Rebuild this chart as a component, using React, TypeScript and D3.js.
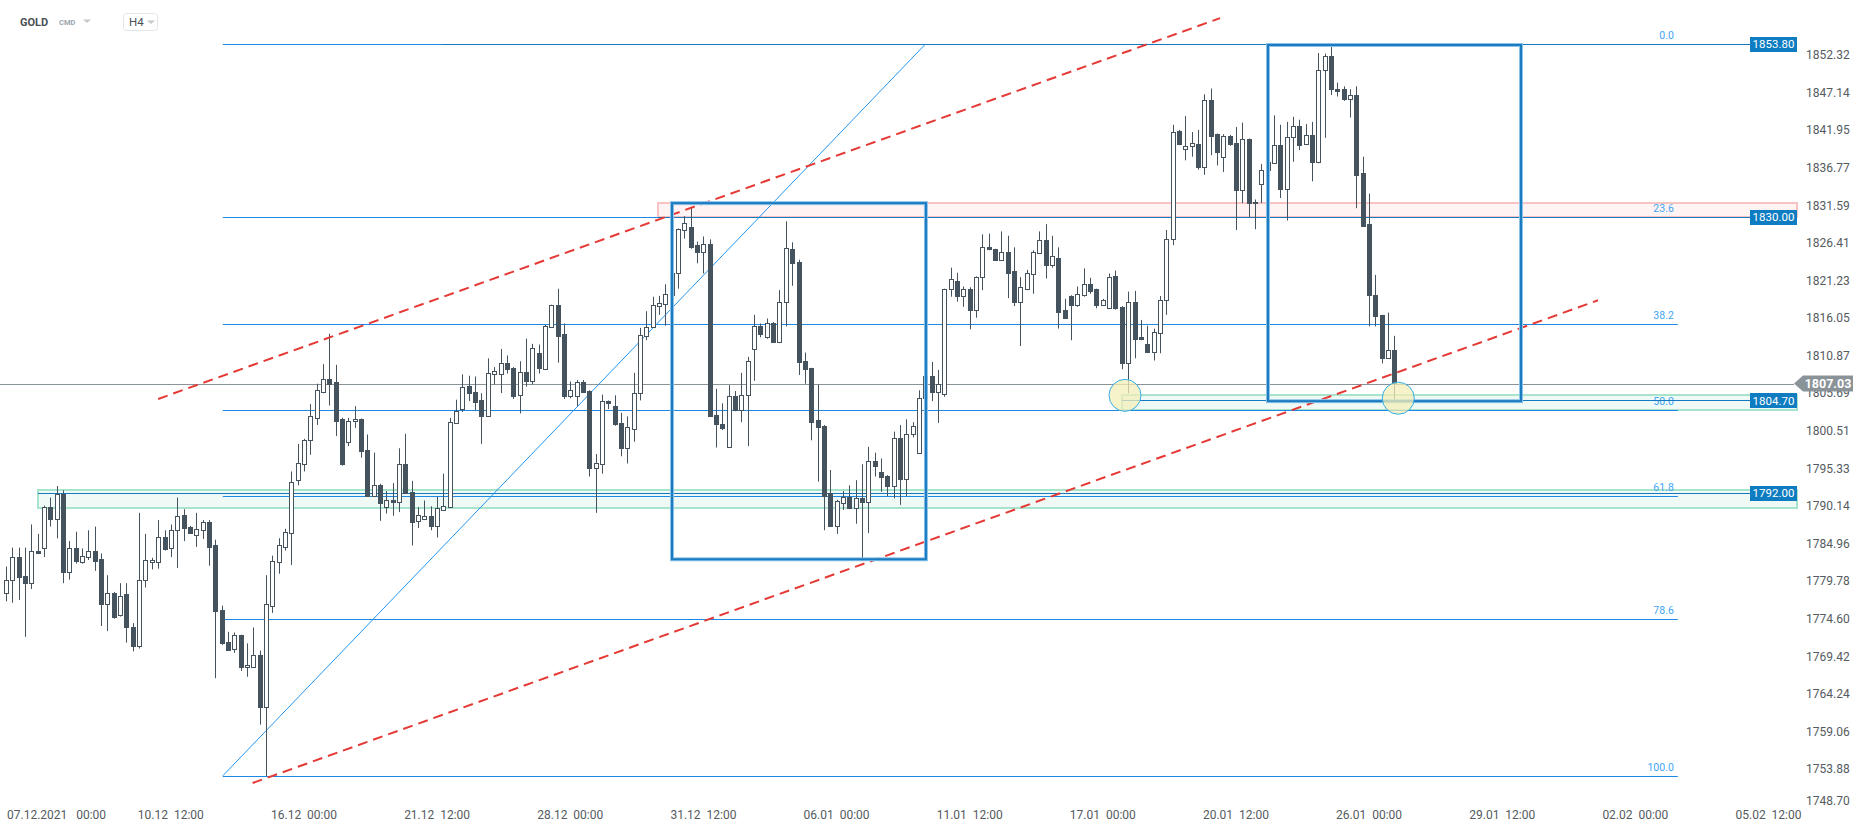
import React from "react";
import * as d3 from "d3";

const W = 1866;
const H = 832;

// H4 candles, left to right
const opens = [
  1778.1, 1780.0, 1783.1, 1780.5, 1779.5, 1784.0, 1784.3, 1790.0, 1788.3, 1791.8,
  1781.1, 1784.4, 1782.4, 1783.1, 1783.9, 1782.8, 1776.6, 1778.2, 1775.1, 1778.0,
  1773.5, 1770.9, 1779.9, 1782.4, 1782.4, 1785.8, 1784.3, 1786.8, 1788.9, 1787.3,
  1786.1, 1786.9, 1788.0, 1784.7, 1775.8, 1771.4, 1770.4, 1772.3, 1767.9, 1768.0,
  1769.6, 1762.4, 1776.3, 1782.4, 1784.5, 1786.4, 1793.7, 1796.0, 1799.2, 1802.3,
  1805.9, 1807.7, 1807.2, 1802.1, 1798.9, 1801.8, 1802.1, 1797.9, 1791.5, 1793.1,
  1790.0, 1791.0, 1790.7, 1796.0, 1792.1, 1788.1, 1788.3, 1788.8, 1787.4, 1789.6,
  1790.0, 1801.6, 1803.5, 1806.7, 1805.8, 1804.7, 1802.6, 1808.4, 1808.4, 1809.8,
  1809.1, 1805.4, 1808.6, 1807.4, 1811.3, 1809.0, 1814.8, 1817.8, 1813.8, 1805.3,
  1805.3, 1807.3, 1806.0, 1795.4, 1796.0, 1804.6, 1803.9, 1801.6, 1798.1, 1800.8,
  1805.7, 1813.6, 1814.8, 1817.7, 1818.0, 1819.3, 1822.2, 1828.2, 1828.6, 1826.1,
  1825.1, 1826.3, 1802.7, 1801.5, 1798.3, 1805.3, 1803.4, 1805.4, 1811.8, 1814.9,
  1813.4, 1815.4, 1812.8, 1818.2, 1825.6, 1823.8, 1810.2, 1809.1, 1802.0, 1801.2,
  1792.0, 1787.4, 1790.6, 1791.4, 1789.8, 1791.2, 1790.7, 1796.3, 1794.8, 1794.3,
  1792.9, 1799.5, 1793.9, 1800.0, 1797.5, 1805.0, 1808.1, 1805.9, 1805.6, 1820.0,
  1821.1, 1819.1, 1820.0, 1817.2, 1821.7, 1825.9, 1825.6, 1824.1, 1825.1, 1822.5,
  1818.3, 1820.1, 1822.1, 1825.0, 1826.8, 1823.3, 1824.3, 1817.1, 1819.1, 1817.8,
  1819.3, 1820.8, 1820.0, 1817.9, 1817.5, 1821.8, 1817.6, 1809.8, 1818.2, 1813.4,
  1812.5, 1811.4, 1814.0, 1818.5, 1826.9, 1841.8, 1839.4, 1839.8, 1840.1, 1836.9,
  1846.1, 1841.4, 1838.3, 1841.2, 1840.2, 1833.7, 1840.7, 1832.1, 1834.6, 1836.5,
  1837.4, 1839.9, 1833.8, 1841.0, 1842.6, 1840.0, 1841.3, 1837.5, 1850.3, 1852.2,
  1847.7, 1847.6, 1846.3, 1846.8, 1836.0, 1829.0, 1819.2, 1816.5, 1810.5, 1811.6,
];
const highs = [
  1781.8, 1784.4, 1784.4, 1784.4, 1787.6, 1786.3, 1790.2, 1791.3, 1792.9, 1792.3,
  1785.3, 1786.6, 1784.3, 1786.8, 1787.3, 1783.6, 1780.6, 1778.3, 1779.5, 1779.5,
  1774.0, 1789.2, 1786.3, 1783.0, 1788.2, 1786.8, 1787.6, 1791.3, 1789.7, 1787.4,
  1789.2, 1788.2, 1788.2, 1785.5, 1776.4, 1772.8, 1772.7, 1772.4, 1771.2, 1773.4,
  1770.2, 1780.6, 1783.3, 1785.7, 1787.0, 1794.9, 1798.7, 1799.4, 1804.2, 1807.0,
  1809.7, 1813.9, 1809.6, 1802.3, 1802.3, 1803.9, 1802.2, 1800.0, 1797.5, 1793.2,
  1792.2, 1793.3, 1798.1, 1800.1, 1793.6, 1790.0, 1790.9, 1790.1, 1791.4, 1794.6,
  1802.3, 1804.8, 1808.3, 1808.1, 1808.0, 1805.7, 1810.5, 1809.3, 1811.8, 1810.9,
  1809.3, 1810.1, 1813.2, 1812.5, 1812.4, 1815.1, 1817.9, 1820.1, 1815.3, 1807.3,
  1807.5, 1807.5, 1806.1, 1797.3, 1805.5, 1804.7, 1805.4, 1803.0, 1802.5, 1808.5,
  1814.7, 1817.0, 1819.0, 1819.1, 1820.7, 1827.4, 1828.4, 1830.1, 1831.2, 1826.6,
  1827.3, 1826.9, 1806.3, 1804.3, 1806.8, 1806.0, 1808.5, 1810.7, 1816.5, 1815.3,
  1816.0, 1815.5, 1819.9, 1829.4, 1826.5, 1824.1, 1811.3, 1809.2, 1806.9, 1801.3,
  1795.1, 1791.0, 1792.2, 1793.0, 1793.7, 1795.9, 1798.3, 1797.5, 1796.7, 1794.4,
  1800.4, 1801.3, 1802.1, 1801.7, 1806.1, 1808.7, 1810.0, 1808.9, 1820.1, 1823.0,
  1822.3, 1820.4, 1820.3, 1821.8, 1827.6, 1827.7, 1825.6, 1828.0, 1827.4, 1825.8,
  1821.7, 1822.7, 1825.4, 1828.0, 1829.0, 1827.4, 1825.8, 1818.7, 1819.2, 1820.4,
  1822.9, 1821.6, 1820.1, 1818.7, 1822.2, 1822.6, 1817.7, 1819.7, 1819.8, 1815.8,
  1815.0, 1814.6, 1819.1, 1828.2, 1842.7, 1842.0, 1843.9, 1841.7, 1842.0, 1846.9,
  1847.7, 1841.5, 1841.4, 1841.3, 1842.4, 1843.0, 1840.8, 1832.4, 1837.3, 1839.6,
  1844.0, 1842.7, 1843.1, 1843.8, 1843.4, 1842.8, 1843.1, 1852.6, 1852.5, 1853.7,
  1848.5, 1848.0, 1847.6, 1848.0, 1838.3, 1833.2, 1822.0, 1816.5, 1816.8, 1813.6,
];
const lows = [
  1777.0, 1776.8, 1777.2, 1772.1, 1778.7, 1783.5, 1783.1, 1787.3, 1785.7, 1779.5,
  1780.0, 1782.2, 1782.2, 1782.7, 1781.2, 1773.6, 1772.9, 1774.6, 1774.9, 1771.3,
  1770.1, 1770.5, 1778.9, 1781.4, 1781.5, 1784.0, 1783.1, 1781.6, 1785.3, 1786.3,
  1784.5, 1785.6, 1781.9, 1766.4, 1771.0, 1770.2, 1769.9, 1767.4, 1766.6, 1767.9,
  1760.0, 1752.9, 1775.4, 1780.8, 1784.0, 1782.0, 1793.0, 1794.9, 1797.2, 1801.3,
  1805.7, 1804.0, 1799.8, 1795.7, 1798.4, 1800.9, 1796.8, 1791.4, 1791.4, 1788.1,
  1789.1, 1788.8, 1789.3, 1791.9, 1784.7, 1787.1, 1788.2, 1786.8, 1785.8, 1789.5,
  1789.9, 1801.6, 1803.1, 1804.6, 1803.3, 1798.7, 1802.5, 1806.9, 1805.7, 1808.4,
  1804.9, 1802.9, 1806.6, 1806.9, 1808.4, 1808.9, 1814.7, 1809.9, 1804.9, 1805.0,
  1803.9, 1805.7, 1794.2, 1789.2, 1794.6, 1803.5, 1801.2, 1797.0, 1796.0, 1799.0,
  1804.7, 1813.0, 1814.7, 1816.5, 1815.0, 1818.6, 1820.1, 1827.0, 1825.6, 1823.6,
  1822.2, 1802.4, 1798.2, 1800.6, 1798.2, 1803.2, 1801.7, 1798.4, 1807.4, 1813.4,
  1813.2, 1812.6, 1812.6, 1814.9, 1820.5, 1808.2, 1807.0, 1799.2, 1793.5, 1786.8,
  1787.4, 1786.3, 1789.6, 1789.7, 1787.7, 1782.7, 1786.4, 1794.2, 1792.1, 1791.5,
  1791.2, 1790.3, 1791.5, 1799.6, 1797.4, 1804.7, 1804.6, 1801.6, 1805.2, 1819.0,
  1818.3, 1817.6, 1814.5, 1816.1, 1819.9, 1825.4, 1824.0, 1824.0, 1818.8, 1817.7,
  1812.2, 1819.9, 1819.4, 1824.9, 1821.5, 1823.0, 1814.6, 1816.0, 1813.0, 1817.6,
  1819.0, 1819.4, 1817.4, 1817.8, 1817.4, 1817.2, 1809.0, 1805.7, 1810.5, 1813.0,
  1811.3, 1810.2, 1811.2, 1816.5, 1826.1, 1839.9, 1837.8, 1838.3, 1836.5, 1835.8,
  1838.5, 1837.1, 1836.2, 1839.8, 1828.2, 1831.9, 1830.0, 1828.3, 1831.9, 1835.5,
  1837.3, 1832.6, 1829.5, 1837.6, 1839.2, 1839.9, 1834.9, 1837.4, 1840.9, 1846.8,
  1846.6, 1846.0, 1843.7, 1831.2, 1828.6, 1814.9, 1814.9, 1809.8, 1810.5, 1804.6,
];
const closes = [
  1780.0, 1783.1, 1780.3, 1779.5, 1784.0, 1783.6, 1790.0, 1788.3, 1791.8, 1781.1,
  1784.4, 1782.6, 1783.3, 1783.9, 1782.6, 1776.6, 1778.2, 1774.9, 1777.8, 1773.4,
  1770.9, 1780.0, 1782.7, 1782.7, 1785.8, 1784.2, 1786.9, 1788.8, 1787.1, 1786.4,
  1787.0, 1788.0, 1784.5, 1775.6, 1771.2, 1770.3, 1772.3, 1768.0, 1768.2, 1769.6,
  1762.5, 1776.6, 1782.5, 1784.7, 1786.5, 1793.5, 1796.1, 1799.2, 1802.5, 1806.1,
  1807.7, 1806.9, 1801.9, 1796.0, 1801.9, 1802.1, 1797.7, 1791.5, 1793.1, 1790.5,
  1791.0, 1790.7, 1796.0, 1791.9, 1788.0, 1788.9, 1788.8, 1787.4, 1789.8, 1790.1,
  1801.7, 1803.2, 1806.6, 1805.7, 1804.5, 1802.6, 1808.5, 1808.7, 1809.8, 1809.0,
  1805.3, 1808.6, 1807.4, 1811.9, 1809.2, 1814.9, 1817.8, 1813.6, 1805.3, 1806.1,
  1807.3, 1805.8, 1795.4, 1796.1, 1804.6, 1804.3, 1801.4, 1798.1, 1801.0, 1805.7,
  1813.7, 1814.8, 1817.8, 1818.1, 1819.4, 1822.3, 1828.3, 1829.2, 1825.9, 1825.1,
  1826.3, 1802.6, 1801.4, 1800.9, 1805.3, 1803.4, 1805.5, 1810.2, 1815.0, 1813.9,
  1815.4, 1812.8, 1818.3, 1825.7, 1823.6, 1810.0, 1809.0, 1801.7, 1801.0, 1791.5,
  1787.4, 1790.8, 1791.4, 1789.8, 1791.2, 1790.7, 1796.3, 1795.7, 1794.2, 1792.9,
  1799.5, 1793.9, 1800.1, 1801.2, 1805.1, 1808.1, 1805.8, 1807.0, 1820.0, 1821.4,
  1819.1, 1820.0, 1817.2, 1821.7, 1825.9, 1825.6, 1824.0, 1825.1, 1822.3, 1818.3,
  1820.3, 1822.3, 1825.1, 1826.8, 1823.3, 1824.6, 1816.9, 1816.1, 1817.8, 1819.4,
  1820.7, 1819.8, 1817.8, 1818.6, 1821.7, 1817.4, 1809.8, 1818.2, 1813.2, 1813.1,
  1811.4, 1814.2, 1818.6, 1827.0, 1841.7, 1840.1, 1839.8, 1840.2, 1836.9, 1846.1,
  1841.2, 1838.9, 1841.2, 1840.1, 1833.7, 1840.7, 1831.9, 1831.9, 1836.5, 1837.5,
  1839.9, 1833.8, 1841.0, 1842.6, 1839.9, 1841.3, 1837.5, 1850.3, 1852.2, 1847.7,
  1847.4, 1846.3, 1846.8, 1835.8, 1828.7, 1819.2, 1816.3, 1810.5, 1811.6, 1807.1,
];

// time axis: a label every 21 bars, first one on bar 5
const timeLabels = [
  "07.12.2021   00:00", "10.12  12:00", "16.12  00:00", "21.12  12:00", "28.12  00:00",
  "31.12  12:00", "06.01  00:00", "11.01  12:00", "17.01  00:00", "20.01  12:00",
  "26.01  00:00", "29.01  12:00", "02.02  00:00", "05.02  12:00",
];
const firstLabelBar = 5;
const labelEvery = 21;

const priceTicks = [
  1852.32, 1847.14, 1841.95, 1836.77, 1831.59, 1826.41, 1821.23, 1816.05, 1810.87, 1805.69,
  1800.51, 1795.33, 1790.14, 1784.96, 1779.78, 1774.6, 1769.42, 1764.24, 1759.06, 1753.88, 1748.7,
];

// fibonacci retracement
const fibLevels = [0, 23.6, 38.2, 50, 61.8, 78.6, 100];
const fibHigh = 1853.8;
const fibLow = 1752.95;
const fibFromBar = 34.2;
const fibToBar = 145.0;
const fibEndBar = 263.7;

// horizontal price tags and the bar where each line starts
const tagPrices = [1853.8, 1830.0, 1804.7, 1792.0];
const tagStartBars = [68.9, 102.8, 176.0, 5.05];
const lastPrice = 1807.03;

// zones: start bar, low, high
const zones = [
  { bar: 102.8, lo: 1830.0, hi: 1831.9, kind: "red" },
  { bar: 5.05, lo: 1789.9, hi: 1792.4, kind: "green" },
  { bar: 176.0, lo: 1803.35, hi: 1805.4, kind: "green" },
];

// channel (dashed red), two points each
const channelUpper = [[24.0, 1804.9], [191.5, 1857.4]];
const channelLower = [[38.9, 1751.95], [251.1, 1818.5]];

// blue boxes
const boxes = [
  { b0: 105.05, b1: 145.1, lo: 1782.8, hi: 1831.9 },
  { b0: 199.05, b1: 238.96, lo: 1804.6, hi: 1853.7 },
];

// highlighted touches
const touches = [[176.5, 1805.4], [219.6, 1805.0]];

const FONT = "Roboto, 'Noto Sans', sans-serif";
const CANDLE = "#44535e";
const BLUE = "#1e88e5";

const App: React.FC = () => {
  const x = d3.scaleLinear().domain([0, 278]).range([6, 6 + 278 * 6.34]);
  const y = d3.scaleLinear().domain([1748.7, 1852.32]).range([806.6, 55]);
  const yc = (p: number) => Math.round(y(p)) + 0.5; // crisp horizontal lines

  const tagLeft = 1750;
  const tagRight = 1797;
  const axisTextX = 1806;

  const line = d3
    .line<number[]>()
    .x((d) => x(d[0]))
    .y((d) => y(d[1]));

  const candles = opens.map((o, i) => {
    const c = closes[i];
    const cx = Math.round(x(i));
    const top = Math.round(y(Math.max(o, c))) + 0.5;
    const bot = Math.round(y(Math.min(o, c))) + 0.5;
    const up = c >= o;
    return (
      <g key={i}>
        <line x1={cx + 0.5} x2={cx + 0.5} y1={y(highs[i])} y2={y(lows[i])} stroke={CANDLE} strokeWidth={1} />
        <rect
          x={cx - 1.5}
          y={top}
          width={4}
          height={Math.max(bot - top, 1)}
          fill={up ? "#ffffff" : CANDLE}
          stroke={CANDLE}
          strokeWidth={1}
        />
      </g>
    );
  });

  const fibPrice = (lvl: number) => fibHigh - (lvl / 100) * (fibHigh - fibLow);

  return (
    <svg
      width={W}
      height={H}
      style={{ position: "absolute", left: 0, top: 0, background: "#fff" }}
      fontFamily={FONT}
    >
      <rect width={W} height={H} fill="#fff" />

      {/* header */}
      <text x={20} y={26} fontSize={11} fontWeight="bold" fill="#4a4f54">GOLD</text>
      <text x={59} y={25} fontSize={7.5} fontWeight="bold" fill="#9aa6ae">CMD</text>
      <path d="M83,19.5 L91,19.5 L87,23 Z" fill="#c4c9cd" />
      <rect x={123.5} y={13.5} width={34} height={17} rx={3} fill="#fff" stroke="#e3e6e8" />
      <text x={129} y={26} fontSize={11.5} fill="#4a4f54">H4</text>
      <path d="M147,20.5 L155,20.5 L151,24 Z" fill="#c4c9cd" />

      {/* zones */}
      {zones.map((z, i) => (
        <rect
          key={i}
          x={Math.round(x(z.bar))}
          y={Math.round(y(z.hi))}
          width={tagRight - Math.round(x(z.bar))}
          height={Math.round(y(z.lo)) - Math.round(y(z.hi))}
          fill={z.kind === "red" ? "#fff3f3" : "#eff9f5"}
          stroke={z.kind === "red" ? "#f8c3c3" : "#a8e3cb"}
          strokeWidth={2}
        />
      ))}

      {/* fibonacci levels */}
      {fibLevels.map((lvl) => (
        <g key={lvl}>
          <line x1={x(fibFromBar)} x2={x(fibEndBar)} y1={yc(fibPrice(lvl))} y2={yc(fibPrice(lvl))} stroke={BLUE} strokeWidth={1} />
          <text x={x(fibEndBar) - 4} y={y(fibPrice(lvl)) - 5} fontSize={10.5} fill="#42a5f5" textAnchor="end">
            {lvl.toFixed(1)}
          </text>
        </g>
      ))}

      {/* price tag lines */}
      {tagPrices.map((p, i) => (
        <line key={p} x1={x(tagStartBars[i])} x2={tagLeft} y1={yc(p)} y2={yc(p)} stroke="#1479c0" strokeWidth={1} />
      ))}

      {/* last price line */}
      <line x1={0} x2={1794} y1={yc(lastPrice)} y2={yc(lastPrice)} stroke="#8a9398" strokeWidth={1} />

      {/* fib trend line */}
      <line x1={x(fibFromBar)} y1={y(fibLow)} x2={x(fibToBar)} y2={y(fibHigh)} stroke="#2196f3" strokeWidth={1} />

      {candles}

      {/* channel */}
      <path d={line(channelUpper) || ""} stroke="#e53935" strokeWidth={2} strokeDasharray="10,6" fill="none" />
      <path d={line(channelLower) || ""} stroke="#e53935" strokeWidth={2} strokeDasharray="10,6" fill="none" />

      {/* boxes */}
      {boxes.map((b, i) => (
        <g key={i} fill="none">
          <rect x={x(b.b0)} y={y(b.hi)} width={x(b.b1) - x(b.b0)} height={y(b.lo) - y(b.hi)} stroke="#8cc3e9" strokeWidth={4} />
          <rect x={x(b.b0)} y={y(b.hi)} width={x(b.b1) - x(b.b0)} height={y(b.lo) - y(b.hi)} stroke="#1b7bc0" strokeWidth={2} />
        </g>
      ))}

      {/* touches */}
      {touches.map((t, i) => (
        <circle key={i} cx={x(t[0])} cy={y(t[1])} r={16} fill="#f3eeb8" fillOpacity={0.75} stroke="#33aee6" strokeWidth={1} />
      ))}

      {/* y axis */}
      {priceTicks.map((p) => (
        <text key={p} x={axisTextX} y={Math.min(y(p), 801)} dy="0.35em" fontSize={12} fill="#555b60">
          {p.toFixed(2)}
        </text>
      ))}

      {/* price tags */}
      {tagPrices.map((p) => (
        <g key={p}>
          <rect x={tagLeft} y={Math.round(y(p)) - 7} width={tagRight - tagLeft} height={15} fill="#0e7cc1" />
          <text x={(tagLeft + tagRight) / 2} y={y(p)} dy="0.36em" fontSize={11.5} fill="#fff" textAnchor="middle">
            {p.toFixed(2)}
          </text>
        </g>
      ))}

      {/* last price tag */}
      <path
        d={`M1794,${y(lastPrice)} L1803,${y(lastPrice) - 8} L1853,${y(lastPrice) - 8} L1853,${y(lastPrice) + 8} L1803,${y(lastPrice) + 8} Z`}
        fill="#8a9398"
      />
      <text x={1828} y={y(lastPrice)} dy="0.36em" fontSize={12.5} fontWeight="bold" fill="#fff" textAnchor="middle">
        {lastPrice.toFixed(2)}
      </text>

      {/* x axis */}
      {timeLabels.map((t, k) => {
        const bx = x(firstLabelBar + k * labelEvery);
        const first = k === 0;
        return (
          <text
            key={t}
            x={first ? 7 : bx}
            y={819}
            fontSize={12}
            fill="#555b60"
            textAnchor={first ? "start" : "middle"}
            style={{ whiteSpace: "pre" }}
          >
            {t}
          </text>
        );
      })}
    </svg>
  );
};

export default App;
